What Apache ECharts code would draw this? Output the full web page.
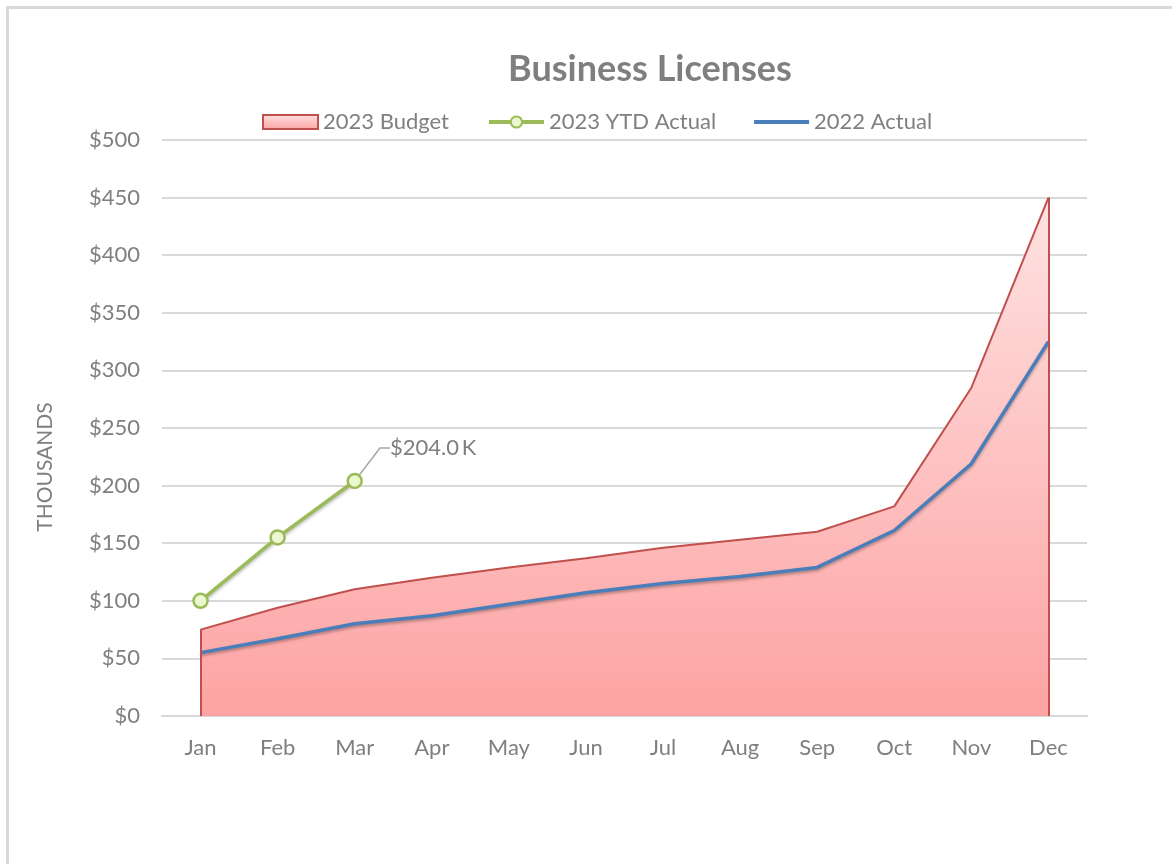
<!DOCTYPE html>
<html>
<head>
<meta charset="utf-8">
<title>Business Licenses</title>
<script src="https://cdn.jsdelivr.net/npm/echarts@6/dist/echarts.min.js"></script>
<style>
  html, body { margin: 0; padding: 0; background: #fff; }
  #chart { width: 1172px; height: 864px; }
</style>
</head>
<body>
<div id="chart"></div>
<script>
// months on the x axis
const months = ['Jan', 'Feb', 'Mar', 'Apr', 'May', 'Jun', 'Jul', 'Aug', 'Sep', 'Oct', 'Nov', 'Dec'];
// values in thousands of dollars
const budget2023 = [75, 94, 110, 120, 129, 137, 146, 153, 160, 182, 285, 450];
const actual2022 = [55, 67, 80, 87, 97, 107, 115, 121, 129, 161, 219, 325];
const ytd2023 = [100, 155, 204];
const yTicks = [0, 50, 100, 150, 200, 250, 300, 350, 400, 450, 500];

const font = 'Lato, "Open Sans", sans-serif';
const grey = '#7f7f7f';
const budgetRed = '#c0504d';
const blue = '#4a7ebb';
const green = '#9bbb59';

const areaFill = new echarts.graphic.LinearGradient(0, 0, 0, 1, [
  { offset: 0, color: '#ffe2e2' },
  { offset: 1, color: '#fda3a3' }
]);

const chart = echarts.init(document.getElementById('chart'));

// only the last YTD point carries the callout label
const lastYtd = ytd2023.length - 1;
const ytdData = ytd2023.map((v, i) => i === lastYtd
  ? { value: v, label: { show: true } }
  : v);

const option = {
  animation: false,
  backgroundColor: '#fff',
  title: {
    text: 'Business Licenses',
    left: 645,
    top: 46,
    textAlign: 'center',
    textStyle: { fontFamily: font, fontSize: 36, fontWeight: 'bold', color: grey }
  },
  legend: {
    left: 257,
    top: 106,
    itemWidth: 55,
    itemHeight: 14,
    itemGap: 38,
    textStyle: { fontFamily: font, fontSize: 22, color: grey },
    data: [
      { name: '2023 Budget', icon: 'rect',
        itemStyle: { color: areaFill, borderColor: budgetRed, borderWidth: 2 } },
      { name: '2023 YTD Actual', lineStyle: { width: 4 } },
      { name: '2022 Actual', icon: 'path://M0,0h55v4h-55z',
        itemStyle: { color: blue, borderWidth: 0 } }
    ]
  },
  grid: { left: 162, right: 85, top: 140, bottom: 148 },
  xAxis: {
    type: 'category',
    data: months,
    boundaryGap: true,
    axisTick: { show: false },
    axisLine: { lineStyle: { color: '#d9d9d9', width: 2 } },
    axisLabel: { fontFamily: font, fontSize: 22, color: grey, margin: 21 }
  },
  yAxis: {
    type: 'value',
    min: yTicks[0],
    max: yTicks[yTicks.length - 1],
    interval: 50,
    axisLine: { show: false },
    axisTick: { show: false },
    axisLabel: {
      fontFamily: font, fontSize: 22, color: grey, margin: 22,
      formatter: v => '$' + v
    },
    splitLine: { lineStyle: { color: '#d9d9d9', width: 2 } }
  },
  series: [
    {
      name: '2023 Budget',
      type: 'line',
      data: budget2023,
      symbol: 'none',
      z: 1,
      lineStyle: { color: budgetRed, width: 2 },
      itemStyle: { color: budgetRed },
      areaStyle: { color: areaFill, opacity: 1 },
      markLine: {
        silent: true,
        symbol: 'none',
        label: { show: false },
        lineStyle: { color: budgetRed, width: 2, type: 'solid' },
        data: [
          [{ coord: [months[0], 0] }, { coord: [months[0], budget2023[0]] }],
          [{ coord: [months[11], 0] }, { coord: [months[11], budget2023[11]] }]
        ]
      }
    },
    {
      name: '2022 Actual',
      type: 'line',
      data: actual2022,
      symbol: 'none',
      z: 3,
      lineStyle: {
        color: blue, width: 3.5,
        shadowColor: 'rgba(0,0,0,0.3)', shadowBlur: 3, shadowOffsetY: 2
      },
      itemStyle: { color: blue }
    },
    {
      name: '2023 YTD Actual',
      type: 'line',
      data: ytdData,
      symbol: 'circle',
      symbolSize: 14,
      z: 4,
      lineStyle: {
        color: green, width: 3.5,
        shadowColor: 'rgba(0,0,0,0.25)', shadowBlur: 3, shadowOffsetY: 2
      },
      itemStyle: { color: '#ebf7d0', borderColor: green, borderWidth: 2.5 },
      label: {
        show: false,
        position: 'right',
        fontFamily: font,
        fontSize: 22,
        color: grey,
        formatter: p => '$' + p.value.toFixed(1) + '\u2009K'
      },
      labelLayout: { dx: 22, dy: -33 },
      labelLine: {
        show: true,
        length2: 10,
        lineStyle: { color: '#a6a6a6', width: 1.5 }
      }
    }
  ],
  graphic: [
    {
      type: 'rect',
      left: 5, top: 5, silent: true,
      shape: { width: 1300, height: 1000 },
      style: { fill: 'none', stroke: '#d9d9d9', lineWidth: 3 },
      z: -10
    },
    {
      type: 'text',
      x: 45, y: 467,
      rotation: Math.PI / 2,
      silent: true,
      style: {
        text: 'THOUSANDS',
        fontFamily: font, fontSize: 21, fill: grey,
        align: 'center', verticalAlign: 'middle'
      }
    }
  ]
};

chart.setOption(option);
</script>
</body>
</html>
